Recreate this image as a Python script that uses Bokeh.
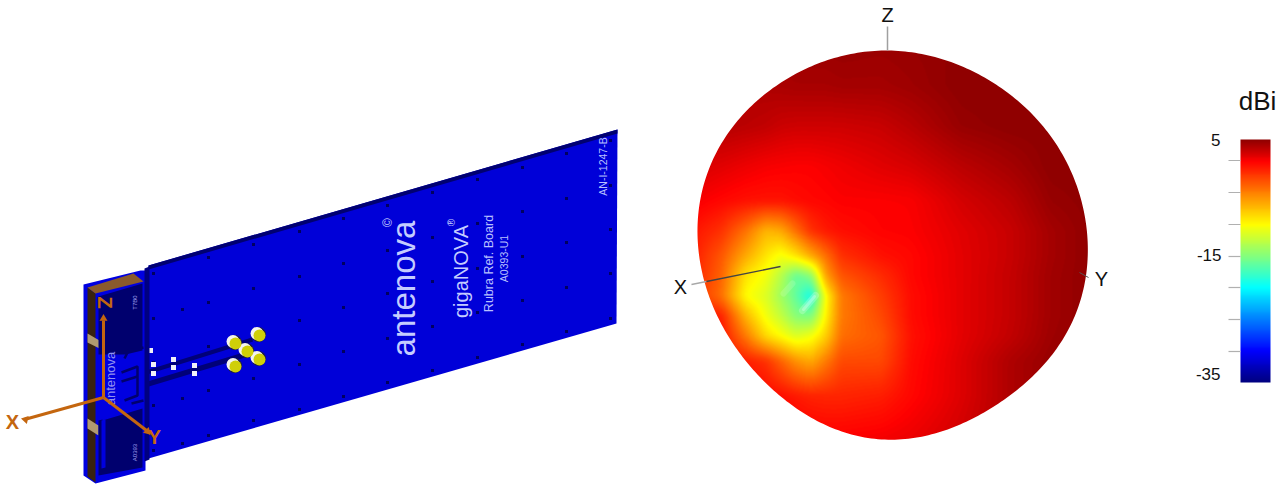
import math
import numpy as np
from bokeh.plotting import figure
from bokeh.models import Range1d, LinearColorMapper
from bokeh.core.properties import value
from bokeh.embed import file_html
from bokeh.resources import INLINE

# ---------- data ----------
gain_x = [690, 720, 745, 765, 780, 795, 810, 825, 840, 880, 910, 960, 1010, 1050, 1095]
gain_y = [45, 85, 125, 165, 200, 230, 255, 275, 295, 315, 335, 360, 395, 445]
gain_45 = [3, 3.5, 4, 4.2, 4.4, 4.5, 4.6, 4.6, 4.7, 4.6, 4.7, 4.9, 5, 5, 5]
gain_85 = [3, 3.5, 3.9, 4, 4.1, 4.2, 4.2, 4.2, 4.3, 4.3, 4.5, 5, 5, 5, 5]
gain_125 = [3, 3.8, 3.6, 3.4, 3.1, 3, 3, 3, 3, 3.2, 3.7, 4.7, 5, 5, 5]
gain_165 = [2.8, 2.4, 2, 1.7, 1.6, 1.5, 1.5, 1.7, 1.9, 2.4, 2.7, 3.6, 4.3, 5, 5]
gain_200 = [1.8, 1.2, 0.8, 0.7, 0.7, 1, 1.2, 1.3, 1.5, 1.5, 1.6, 2.8, 3.6, 4.7, 5]
gain_230 = [0.8, -0.5, -3.2, -6, -5.5, -3, -0.5, 0.5, 0.9, 1.4, 1.5, 2.4, 3.2, 4.3, 5]
gain_255 = [0.5, -2, -5.5, -8, -9.5, -8, -5.5, -3, -0.5, 0.8, 1.2, 2.3, 3.2, 4.3, 5]
gain_275 = [0.3, -2.5, -8, -9.5, -12, -15.5, -14, -5, -2, -0.3, 1.2, 2.3, 3.3, 4.4, 5]
gain_295 = [0, -3, -9, -10.5, -13, -15.5, -19, -9, -3.5, -1, 1, 2.3, 3.3, 4.4, 5]
gain_315 = [0.8, 0.3, -6, -9.5, -11.5, -14, -14.5, -8.5, -3.5, -1.5, 1, 2.3, 3.3, 4.4, 5]
gain_335 = [1, 0.8, -3.5, -7.5, -9, -10.5, -9.5, -7, -3, -2, 0.8, 2.3, 3.4, 4.5, 5]
gain_360 = [1.5, 1.2, 0.3, -0.5, -2.5, -4.5, -5.5, -3.5, -1.5, -1.5, 1, 2.5, 4, 4.7, 5]
gain_395 = [2, 2, 1.8, 1.2, 1, 0.5, 0.1, 0, 0, 0.3, 1.2, 2.5, 4, 4.7, 5]
gain_445 = [2.5, 2.5, 2.4, 2.3, 2.2, 2.1, 2, 1.8, 1.8, 2, 2.2, 3, 4, 4.7, 5]
gain_rows = [gain_45, gain_85, gain_125, gain_165, gain_200, gain_230, gain_255,
             gain_275, gain_295, gain_315, gain_335, gain_360, gain_395, gain_445]

sphere_x = [897, 930, 963, 993, 1020, 1040, 1060, 1075, 1083, 1087, 1085, 1080, 1070, 1053, 1027,
            997, 963, 930, 893, 847, 813, 780, 752, 733, 713, 702, 696, 699, 710, 736, 760, 790, 823, 860]
sphere_y = [50, 54, 67, 83, 103, 123, 150, 180, 210, 243, 273, 300, 327, 353, 380,
            403, 422, 435, 440, 432, 418, 397, 368, 343, 307, 270, 237, 203, 163, 125, 95, 75, 62, 53]

dbi_ticks = [-35, -15, 5]
bar_stop_gain = [5, 1.5, -3.7, -9, -14.3, -19.4, -24.6, -29.9, -35]
bar_stop_rgb = [(0x90, 0, 0), (255, 0, 0), (255, 128, 0), (255, 255, 0), (128, 255, 128),
                (0, 255, 255), (0, 128, 255), (0, 0, 255), (0, 0, 128)]

dot_columns = {153: [273, 318, 362, 405, 450], 182: [309, 398, 443], 208: [257, 302, 346, 390, 435],
               253: [244, 288, 333, 378, 420], 299: [231, 276, 320, 364, 409], 343: [218, 263, 307, 351, 396],
               387: [205, 250, 293, 338, 382], 432: [192, 237, 281, 326, 370], 477: [179, 223, 268, 312, 357],
               522: [167, 211, 256, 300, 344], 566: [153, 198, 242, 287, 331], 610: [140, 185, 229, 273, 318]}
pad_x = [150, 153, 153, 173, 173, 194, 194]
pad_y = [350, 364, 373, 359, 367, 365, 373]
conn_x = [234, 258, 246, 258, 234]
conn_y = [342, 334, 350, 358, 365]

# ---------- helpers ----------
NAVY = "#00006e"
BLUE = "#0000d8"
ORANGE = "#c4660f"
SANS = value("Liberation Sans")

levels = np.linspace(-35, 5, 256)
stop_g = bar_stop_gain[::-1]
stop_c = bar_stop_rgb[::-1]
palette = ["#%02x%02x%02x" % tuple(int(round(np.interp(g, stop_g, [c[i] for c in stop_c]))) for i in range(3))
           for g in levels]
mapper = LinearColorMapper(palette=palette, low=-35, high=5)

p = figure(width=1279, height=485, x_range=Range1d(0, 1279), y_range=Range1d(485, 0),
           x_axis_location=None, y_axis_location=None, toolbar_location=None,
           output_backend="svg", min_border=0, outline_line_color=None,
           background_fill_color="white", border_fill_color="white")
p.grid.visible = False


def poly(xs, ys, color, **kw):
    p.patch(xs, ys, fill_color=color, line_color=kw.pop("line_color", None), **kw)


def label(x, y, text, size, color="#111111", angle=0.0, align="center", base="middle", style="normal", font=SANS):
    p.text([x], [y], text=[text], text_font=font, text_font_size=f"{size}px", text_color=color,
           angle=angle, text_align=align, text_baseline=base, text_font_style=style)


# ---------- radiation sphere ----------
px_x = np.arange(gain_x[0], gain_x[-1] + 1)
px_y = np.arange(gain_y[0], gain_y[-1] + 1)
rows = np.array([np.interp(px_x, gain_x, r) for r in gain_rows])
field = np.array([np.interp(px_y, gain_y, rows[:, j]) for j in range(rows.shape[1])]).T
kern = np.exp(-0.5 * (np.arange(-8, 9) / 3.0) ** 2)
kern /= kern.sum()
pad = 8
padded = np.pad(field, pad, mode="edge")
padded = np.apply_along_axis(lambda v: np.convolve(v, kern, mode="same"), 0, padded)
padded = np.apply_along_axis(lambda v: np.convolve(v, kern, mode="same"), 1, padded)
field = padded[pad:-pad, pad:-pad]
p.image(image=[field], x=gain_x[0], y=gain_y[0], dw=gain_x[-1] - gain_x[0] + 1,
        dh=gain_y[-1] - gain_y[0] + 1, color_mapper=mapper)
# pale streaks on the hole of the pattern
p.line([802, 815], [310, 295], line_color="white", line_alpha=0.22, line_width=7, line_cap="round")
p.line([803, 814], [309, 296], line_color="white", line_alpha=0.28, line_width=3, line_cap="round")
p.line([783, 792], [293, 283], line_color="white", line_alpha=0.14, line_width=6, line_cap="round")
# smooth the read outline: low-pass its radius around the sphere's centre
cx0, cy0 = 891.0, 245.0
th = np.arctan2(np.array(sphere_y) - cy0, np.array(sphere_x) - cx0)
rad = np.hypot(np.array(sphere_x) - cx0, np.array(sphere_y) - cy0)
order = np.argsort(th)
fine = np.linspace(-math.pi, math.pi, 360, endpoint=False)
r_fine = np.interp(fine, th[order], rad[order], period=2 * math.pi)
spec = np.fft.rfft(r_fine)
spec[7:] = 0
r_smooth = np.fft.irfft(spec, 360)
smooth_x = list(cx0 + r_smooth * np.cos(fine))
smooth_y = list(cy0 + r_smooth * np.sin(fine))
# white surround leaves only the sphere
outer_x = [685, 1100, 1100, 685]
outer_y = [40, 40, 450, 450]
p.multi_polygons(xs=[[[outer_x, smooth_x]]], ys=[[[outer_y, smooth_y]]],
                 fill_color="white", line_color=None)

p.line([887, 887], [26, 50], line_color="#a0a0a0", line_width=1.5)
p.line([691, 706], [284, 281], line_color="#a8a8a8", line_width=1.5)
p.line([706, 780], [281, 266], line_color="#444444", line_width=1.3)
p.line([1079, 1088], [272, 277], line_color="#555555", line_width=1)
label(887, 14, "Z", 20)
label(680, 286, "X", 20)
label(1101, 278, "Y", 20)

# ---------- colour bar ----------
bar_vals = np.linspace(-35, 5, 243).reshape(-1, 1)
p.image(image=[bar_vals[::-1]], x=1240, y=139, dw=30, dh=243, color_mapper=mapper)
p.segment([1228] * 7, [160, 192, 224, 256, 287, 319, 351], [1240] * 7, [160, 192, 224, 256, 287, 319, 351],
          line_color="#b0b0b0", line_width=1.2)
label(1220, 139, f"{dbi_ticks[2]}", 17, align="right")
label(1221, 254, f"{dbi_ticks[1]}", 17, align="right")
label(1220, 373, f"{dbi_ticks[0]}", 17, align="right")
label(1257, 100, "dBi", 26)

# ---------- board ----------
poly([148, 617, 616, 148], [265, 129, 323, 458], BLUE)
poly([148, 617, 617, 148], [265, 129, 133, 269], "#000070")

dx, dy = [], []
for cx, col in dot_columns.items():
    dx += [cx] * len(col)
    dy += col
p.scatter(dx, dy, marker="square", size=3, fill_color="#000060", line_color=None)

label(403, 288, "antenova", 33, "#c4ccff", math.pi / 2)
label(387, 222, "©", 12, "#c4ccff", math.pi / 2)
label(460, 271, "gigaNOVA", 20, "#c4ccff", math.pi / 2)
label(451, 222, "®", 10, "#c4ccff", math.pi / 2)
label(488, 263, "Rubra Ref. Board", 12.5, "#b8c0ff", math.pi / 2)
label(503, 258, "A0393-U1", 10.5, "#b8c0ff", math.pi / 2)
label(602, 166, "AN-I-1247-B", 10.5, "#b8c0ff", math.pi / 2)

# feed traces, pads and connectors
p.line([146, 252], [372, 339], line_color="#000078", line_width=4)
p.line([146, 252], [384, 352], line_color="#000078", line_width=5)
p.scatter(pad_x, pad_y, marker="square", size=5, fill_color="#f0f0f8", line_color=None)
p.scatter(conn_x, conn_y, marker="circle", size=15, fill_color="#202040", line_color=None)
p.scatter([x - 1.5 for x in conn_x], [y - 1 for y in conn_y], marker="circle", size=13, fill_color="#f4f4f0", line_color=None)
p.scatter([x + 1 for x in conn_x], [y + 1 for y in conn_y], marker="circle", size=12, fill_color="#cfcf08", line_color=None)

# ---------- ground block at the board's end ----------
poly([83, 140, 145, 145, 95, 83], [284, 270, 270, 470, 483, 475], "#0000e0")
poly([87, 95, 95, 87], [287, 293, 482, 476], "#38220f")
poly([87, 133, 143, 95], [287, 273, 281, 293], "#8a5a2c")
poly([87, 99, 99, 87], [333, 340, 348, 342], "#b09a70")
poly([87, 98, 98, 87], [418, 425, 435, 428], "#b09a70")
poly([98, 142, 142, 125, 98], [296, 283, 350, 354, 354], NAVY)
poly([98, 102, 102, 142, 142, 98], [420, 419, 420, 408, 467, 475], NAVY)
poly([101, 105, 105, 101], [420, 419, 467, 468], "#0000e0")
poly([144, 149, 149, 144], [268, 266, 459, 461], "#000080")
p.multi_line([[124, 128, 143], [121, 137, 137, 124], [131, 143], [121, 137]],
              [[358, 350, 347], [372, 366, 395, 400], [403, 400], [381, 376]],
              line_color=NAVY, line_width=2.5)
label(110, 378, "antenova", 13, "#9090f0", math.pi / 2)
label(134, 302, "T7B0", 6, "#a0a0f0", math.pi / 2)
label(134, 452, "A0393", 6, "#a0a0f0", math.pi / 2)

# ---------- orange axes ----------
p.segment([103, 103, 103], [397, 397, 397], [103, 24, 150], [320, 419, 433], line_color=ORANGE, line_width=3)
p.scatter([103, 25, 147], [318, 419, 431], marker="triangle", size=8,
          angle=[0, math.radians(77), math.radians(-135)], fill_color=ORANGE, line_color=None)
label(104, 302, "Z", 20, ORANGE, -math.pi / 2, style="bold")
label(12, 421, "X", 20, ORANGE, style="bold")
label(154, 436, "Y", 20, ORANGE, style="bold")

open("out.html", "w").write(file_html(p, INLINE))
